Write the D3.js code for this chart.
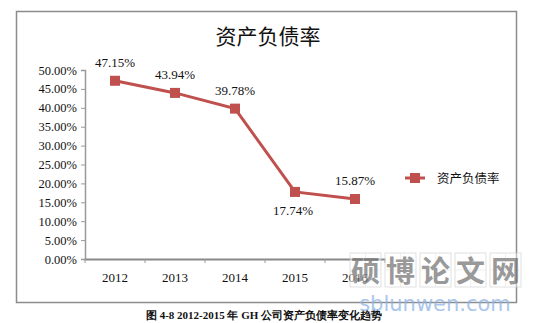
<!DOCTYPE html>
<html>
<head>
<meta charset="utf-8">
<script src="https://cdn.jsdelivr.net/npm/d3@7/dist/d3.min.js"></script>
<style>
  html, body { margin: 0; padding: 0; background: #fff; }
  svg { display: block; }
</style>
</head>
<body>
<script>
// Debt-to-asset ratio by year
const years = ["2012", "2013", "2014", "2015", "2016"];
const ratios = [47.15, 43.94, 39.78, 17.74, 15.87];
const labelText = ["47.15%", "43.94%", "39.78%", "17.74%", "15.87%"];
const labelBelow = [false, false, false, true, false];
const yTicks = [0, 5, 10, 15, 20, 25, 30, 35, 40, 45, 50];
const seriesName = "资产负债率";
const chartTitle = "资产负债率";
const caption = "图 4-8 2012-2015 年 GH 公司资产负债率变化趋势";

const W = 538, H = 323;
const red = "#C0504D";
const serif = "'Liberation Serif', 'Times New Roman', serif";
const cjk = "'Noto Sans CJK SC', sans-serif";

const svg = d3.select("body").append("svg").attr("width", W).attr("height", H);

// chart frame
svg.append("rect").attr("x", 16.5).attr("y", 11.5).attr("width", 500).attr("height", 291)
  .attr("fill", "#fff").attr("stroke", "#8c8c8c").attr("stroke-width", 1.5);

// title
svg.append("text").attr("x", 268).attr("y", 44).attr("text-anchor", "middle")
  .attr("font-family", cjk).attr("font-size", 21).attr("fill", "#111")
  .text(chartTitle);

const x = d3.scaleBand().domain(years).range([85, 385]);
const y = d3.scaleLinear().domain([0, 50]).range([259, 70]);

// y axis
const yAxis = svg.append("g").attr("transform", "translate(85,0)")
  .call(d3.axisLeft(y).tickValues(yTicks).tickSize(4).tickPadding(4)
    .tickFormat(d => d3.format(".2f")(d) + "%"));
yAxis.select(".domain").attr("stroke", "#999").attr("stroke-width", 1.5);
yAxis.selectAll(".tick line").attr("stroke", "#999");
yAxis.selectAll(".tick text").attr("font-family", serif).attr("font-size", 12.5).attr("fill", "#111");

// x axis
const xAxis = svg.append("g").attr("transform", "translate(0,259)")
  .call(d3.axisBottom(x).tickSize(0).tickPadding(14));
xAxis.select(".domain").attr("stroke", "#888").attr("stroke-width", 2);
xAxis.selectAll(".tick text").attr("font-family", serif).attr("font-size", 13).attr("fill", "#111");
// category boundary ticks
const bounds = years.map(d => x(d)).concat([x.range()[1]]);
xAxis.selectAll(".bt").data(bounds).join("line").attr("class", "bt")
  .attr("x1", d => d).attr("x2", d => d).attr("y1", 0).attr("y2", 4)
  .attr("stroke", "#999");

const cx = d => x(d) + x.bandwidth() / 2;

// line
const line = d3.line().x((d, i) => cx(years[i])).y(d => y(d));
svg.append("path").datum(ratios).attr("d", line)
  .attr("fill", "none").attr("stroke", red).attr("stroke-width", 3);

// markers
svg.selectAll(".mk").data(ratios).join("rect").attr("class", "mk")
  .attr("x", (d, i) => cx(years[i]) - 5).attr("y", d => y(d) - 5)
  .attr("width", 10).attr("height", 10).attr("fill", red);

// value labels
svg.selectAll(".vl").data(ratios).join("text").attr("class", "vl")
  .attr("x", (d, i) => cx(years[i]) - (labelBelow[i] ? 2 : 0))
  .attr("y", (d, i) => labelBelow[i] ? y(d) + 23 : y(d) - 14)
  .attr("text-anchor", "middle").attr("font-family", serif).attr("font-size", 13).attr("fill", "#111")
  .text((d, i) => labelText[i]);

// legend
const lg = svg.append("g").attr("transform", "translate(405,178)");
lg.append("line").attr("x1", 0).attr("x2", 20).attr("stroke", red).attr("stroke-width", 3);
lg.append("rect").attr("x", 5).attr("y", -5).attr("width", 10).attr("height", 10).attr("fill", red);
lg.append("text").attr("x", 32).attr("y", 4.5).attr("font-family", cjk).attr("font-size", 12.5).attr("fill", "#111")
  .text(seriesName);

// caption
svg.append("text").attr("x", 264).attr("y", 319).attr("text-anchor", "middle")
  .attr("font-family", serif).attr("font-size", 11).attr("font-weight", "bold").attr("fill", "#111")
  .text(caption);

// site watermark
const wm = svg.append("g").attr("opacity", 0.75);
const wmChars = ["硕", "博", "论", "文", "网"];
wmChars.forEach((c, i) => {
  const bx = 350 + i * 35;
  wm.append("rect").attr("x", bx).attr("y", 253).attr("width", 31).attr("height", 34)
    .attr("fill", "#fff").attr("fill-opacity", 0.6).attr("stroke", "#ccc").attr("stroke-width", 0.8);
  wm.append("line").attr("x1", bx + 15.5).attr("x2", bx + 15.5).attr("y1", 253).attr("y2", 287)
    .attr("stroke", "#ddd").attr("stroke-width", 0.6);
  wm.append("line").attr("x1", bx).attr("x2", bx + 31).attr("y1", 270).attr("y2", 270)
    .attr("stroke", "#ddd").attr("stroke-width", 0.6);
  wm.append("text").attr("x", bx + 15.5).attr("y", 282).attr("text-anchor", "middle")
    .attr("font-family", cjk).attr("font-weight", "bold").attr("font-size", 29).attr("fill", "#777")
    .text(c);
});
wm.append("text").attr("x", 435).attr("y", 311).attr("text-anchor", "middle")
  .attr("font-family", "'DejaVu Sans', sans-serif").attr("font-size", 21).attr("fill", "#8fb4e6")
  .text("sblunwen.com");
</script>
</body>
</html>
